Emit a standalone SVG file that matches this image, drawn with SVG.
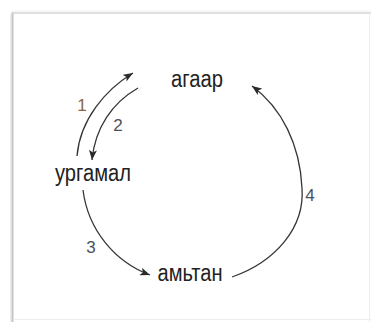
<svg xmlns="http://www.w3.org/2000/svg" width="371" height="322" viewBox="0 0 371 322">
<defs>
<marker id="ah" viewBox="0 0 10 8" refX="10" refY="4" markerWidth="10" markerHeight="8" markerUnits="userSpaceOnUse" orient="auto">
<path d="M0,0 L10,4 L0,8 L2.5,4 Z" fill="#2a2a2a"/>
</marker>
</defs>
<style>
.lbl{font-family:"Liberation Sans",Arial,sans-serif;font-size:23px;fill:#222;text-anchor:middle}
.num{font-family:"Liberation Sans",Arial,sans-serif;font-size:17px;fill:#4a4f5c;text-anchor:middle}
.arc{fill:none;stroke:#363636;stroke-width:1.3;marker-end:url(#ah)}
</style>
<rect width="371" height="322" fill="#fff"/>
<g id="frame">
<line x1="10.5" y1="14" x2="10.5" y2="322" stroke="#ececec" stroke-width="1"/>
<line x1="12.5" y1="12" x2="12.5" y2="322" stroke="#c4c4c4" stroke-width="2"/>
<line x1="12" y1="13" x2="371" y2="13" stroke="#d6d6d6" stroke-width="1.5"/>
<line x1="12" y1="11" x2="371" y2="11" stroke="#f0f0f0" stroke-width="1"/>
<line x1="369.5" y1="13" x2="369.5" y2="322" stroke="#ededed" stroke-width="1"/>
<line x1="13" y1="319.5" x2="371" y2="319.5" stroke="#ededed" stroke-width="1"/>
</g>
<g id="connectors">
<path class="arc" d="M77,156 C80,120 105,90 133,73"/>
<path class="arc" d="M138,88 C112,103 95,128 92,160"/>
<path class="arc" d="M83,190 C88,230 115,262 150,275"/>
<path class="arc" d="M232,277 C275,262 305,228 302,188 C300,145 282,108 252,86"/>
<text class="num" x="82" y="111" style="fill:#8a6440">1</text>
<text class="num" x="118" y="131">2</text>
<text class="num" x="91" y="253">3</text>
<text class="num" x="310" y="201">4</text>
</g>
<g id="node-agaar"><text class="lbl" x="197" y="87" textLength="52" lengthAdjust="spacingAndGlyphs">агаар</text></g>
<g id="node-urgamal"><text class="lbl" x="93" y="181" textLength="76" lengthAdjust="spacingAndGlyphs">ургамал</text></g>
<g id="node-amitan"><text class="lbl" x="190" y="281" textLength="65" lengthAdjust="spacingAndGlyphs">амьтан</text></g>
</svg>
